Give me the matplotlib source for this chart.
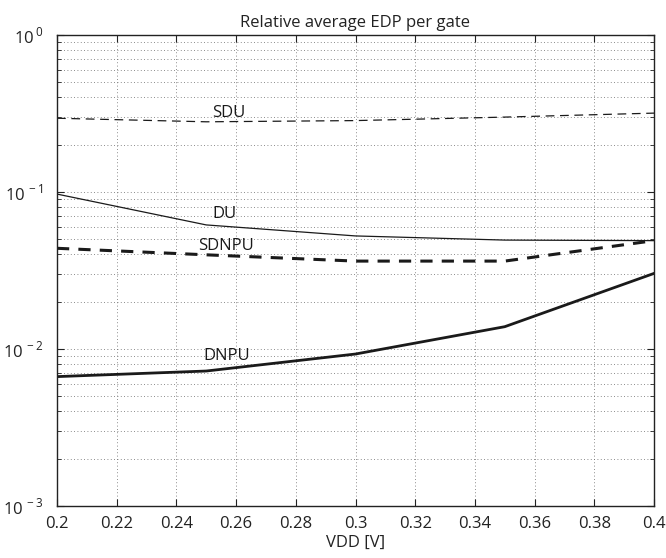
import math
import matplotlib
matplotlib.use("Agg")
import matplotlib.pyplot as plt
from matplotlib.ticker import LogLocator, FixedLocator, FuncFormatter, NullFormatter

plt.rcParams['font.family'] = ['Open Sans', 'DejaVu Sans']
plt.rcParams['mathtext.fontset'] = 'custom'
plt.rcParams['mathtext.rm'] = 'Open Sans'

vdd = [0.2, 0.25, 0.3, 0.35, 0.4]
sdu = [0.295, 0.28, 0.285, 0.30, 0.318]
du = [0.097, 0.0617, 0.0525, 0.0494, 0.049]
sdnpu = [0.0438, 0.0398, 0.0363, 0.0363, 0.049]
dnpu = [0.00667, 0.00724, 0.00929, 0.01387, 0.0303]

series_names = ["SDU", "DU", "SDNPU", "DNPU"]
label_x = [0.2576, 0.2561, 0.2566, 0.257]
label_y = [0.318, 0.0724, 0.0453, 0.00906]

xticks = [0.2, 0.22, 0.24, 0.26, 0.28, 0.3, 0.32, 0.34, 0.36, 0.38, 0.4]
xtick_labels = ["0.2", "0.22", "0.24", "0.26", "0.28", "0.3", "0.32", "0.34", "0.36", "0.38", "0.4"]

fig = plt.figure(figsize=(6.66, 5.58), dpi=100)
ax = fig.add_axes([57/666, 1 - 506/558, (654-57)/666, (506-35)/558])

c = '#1a1a1a'
ax.plot(vdd, sdu, linestyle=(0, (7, 4.5)), color=c, linewidth=0.9)
ax.plot(vdd, du, linestyle='-', color=c, linewidth=0.9)
ax.plot(vdd, sdnpu, linestyle=(0, (4, 3)), color=c, linewidth=2.2)
ax.plot(vdd, dnpu, linestyle='-', color=c, linewidth=2.0)

for name, lx, ly in zip(series_names, label_x, label_y):
    ax.text(lx, ly, name, ha='center', va='center', fontsize=12, color=c)

ax.set_yscale('log')
ax.set_xlim(0.2, 0.4)
ax.set_ylim(1e-3, 1)
ax.xaxis.set_major_locator(FixedLocator(xticks))
ax.set_xticklabels(xtick_labels)
ax.yaxis.set_major_locator(LogLocator(base=10, numticks=10))
ax.yaxis.set_minor_locator(LogLocator(base=10, subs=range(2, 10), numticks=20))
ax.yaxis.set_minor_formatter(NullFormatter())
ax.yaxis.set_major_formatter(FuncFormatter(lambda v, p: r'$10^{\,%d}$' % round(math.log10(v))))

ax.grid(True, which='major', linestyle=(0, (1, 3)), color='#666666', linewidth=0.6)
ax.grid(True, which='minor', axis='y', linestyle=(0, (1, 3)), color='#666666', linewidth=0.6)

ax.tick_params(which='both', direction='in', top=True, right=True, labelsize=12, colors='#222222')
ax.tick_params(which='major', length=5)
ax.tick_params(which='minor', length=3)
ax.tick_params(axis='x', pad=7)
ax.tick_params(axis='y', pad=10)
for s in ax.spines.values():
    s.set_color('#222222')
    s.set_linewidth(1.0)

ax.set_title("Relative average EDP per gate", fontsize=12, color='#222222', pad=6)
ax.set_xlabel("VDD [V]", fontsize=12, color='#222222', labelpad=2)

fig.savefig("out.png", dpi=100)
